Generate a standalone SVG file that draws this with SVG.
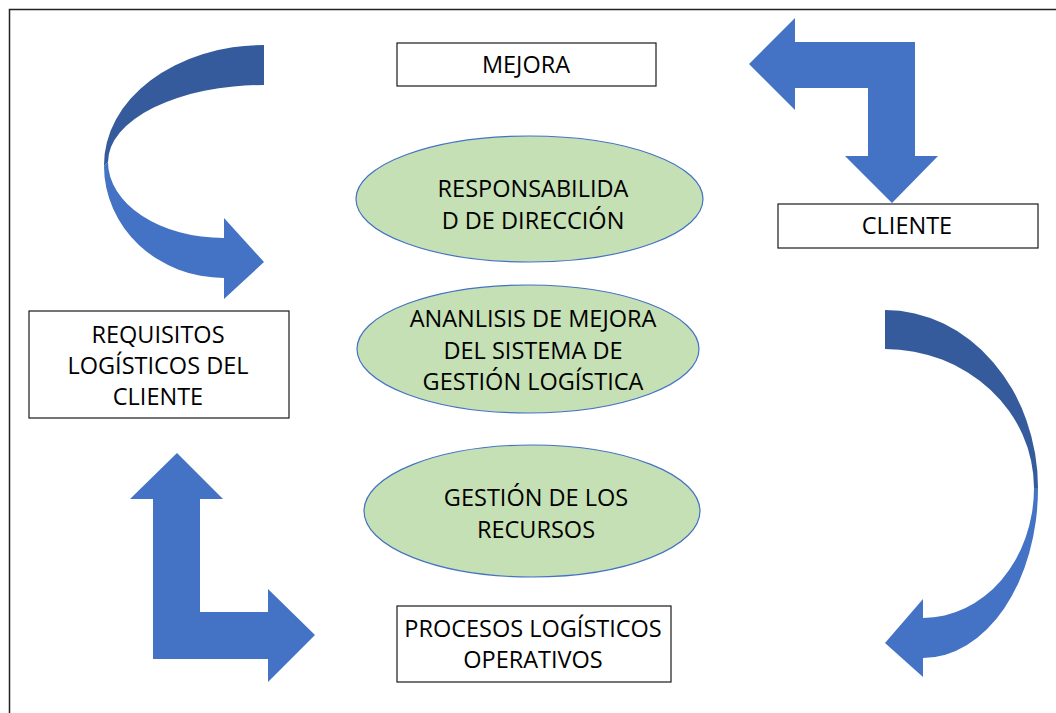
<svg xmlns="http://www.w3.org/2000/svg" width="1056" height="713" viewBox="0 0 1056 713">
<style>
.box{fill:#fff;stroke:#1a1a1a;stroke-width:1.2}
.ell{fill:#c5e0b4;stroke:#4472c4;stroke-width:1.2}
.lbl{font-family:"Open Sans","Liberation Sans",sans-serif;font-size:23.5px;fill:#000;text-anchor:middle}
.lt{fill:#4472c4}
.dk{fill:#365b9d}
</style>
<rect width="1056" height="713" fill="#fff"/>
<path d="M9.5,713 L9.5,9.5 L1056,9.5" fill="none" stroke="#222" stroke-width="1.5"/>
<g id="connectors">
  <g id="curved-left">
    <path class="dk" d="M264,45 A160,120 0 0 0 104,166 L108,162 A156,77 0 0 1 264,85 Z"/>
    <path class="lt" d="M108,162 A116,76 0 0 0 224,238 L224,218 L264,262 L224,299 L224,278 A120,112 0 0 1 104,166 Z"/>
  </g>
  <g id="bent-top-right">
    <polygon class="lt" points="749,64 795,18 795,42 915,42 915,156 938,156 892,203 845,156 868,156 868,88 795,88 795,110"/>
  </g>
  <g id="curved-right">
    <path class="dk" d="M885,310 A153,178 0 0 1 1038,488 L1034,488 A149,139 0 0 0 885,349 Z"/>
    <path class="lt" d="M1034,488 A111,130 0 0 1 923,618 L923,599 L885,643 L923,677 L923,658 A115,170 0 0 0 1038,488 Z"/>
  </g>
  <g id="bent-bottom-left">
    <polygon class="lt" points="177,453 223,499 200,499 200,612 268,612 268,589 315,635 268,682 268,659 153,659 153,499 130,499"/>
  </g>
</g>
<g id="mejora">
  <rect class="box" x="397" y="43" width="259" height="43"/>
  <text class="lbl" x="526" y="73">MEJORA</text>
</g>
<g id="cliente">
  <rect class="box" x="778" y="204" width="260" height="44"/>
  <text class="lbl" x="907" y="234">CLIENTE</text>
</g>
<g id="requisitos">
  <rect class="box" x="29" y="311" width="260" height="107"/>
  <text class="lbl" x="158" y="343">REQUISITOS</text>
  <text class="lbl" x="158" y="374">LOGÍSTICOS DEL</text>
  <text class="lbl" x="158" y="405">CLIENTE</text>
</g>
<g id="procesos">
  <rect class="box" x="397" y="606" width="274" height="76"/>
  <text class="lbl" x="533" y="637">PROCESOS LOGÍSTICOS</text>
  <text class="lbl" x="533" y="668">OPERATIVOS</text>
</g>
<g id="responsabilidad">
  <ellipse class="ell" cx="529.5" cy="199" rx="173.5" ry="63"/>
  <text class="lbl" x="533" y="197">RESPONSABILIDA</text>
  <text class="lbl" x="533" y="229">D DE DIRECCIÓN</text>
</g>
<g id="analisis">
  <ellipse class="ell" cx="528" cy="349" rx="171" ry="64"/>
  <text class="lbl" x="533" y="327">ANANLISIS DE MEJORA</text>
  <text class="lbl" x="533" y="359">DEL SISTEMA DE</text>
  <text class="lbl" x="533" y="390">GESTIÓN LOGÍSTICA</text>
</g>
<g id="gestion">
  <ellipse class="ell" cx="532" cy="511" rx="168" ry="66"/>
  <text class="lbl" x="536" y="506">GESTIÓN DE LOS</text>
  <text class="lbl" x="536" y="538">RECURSOS</text>
</g>
</svg>
